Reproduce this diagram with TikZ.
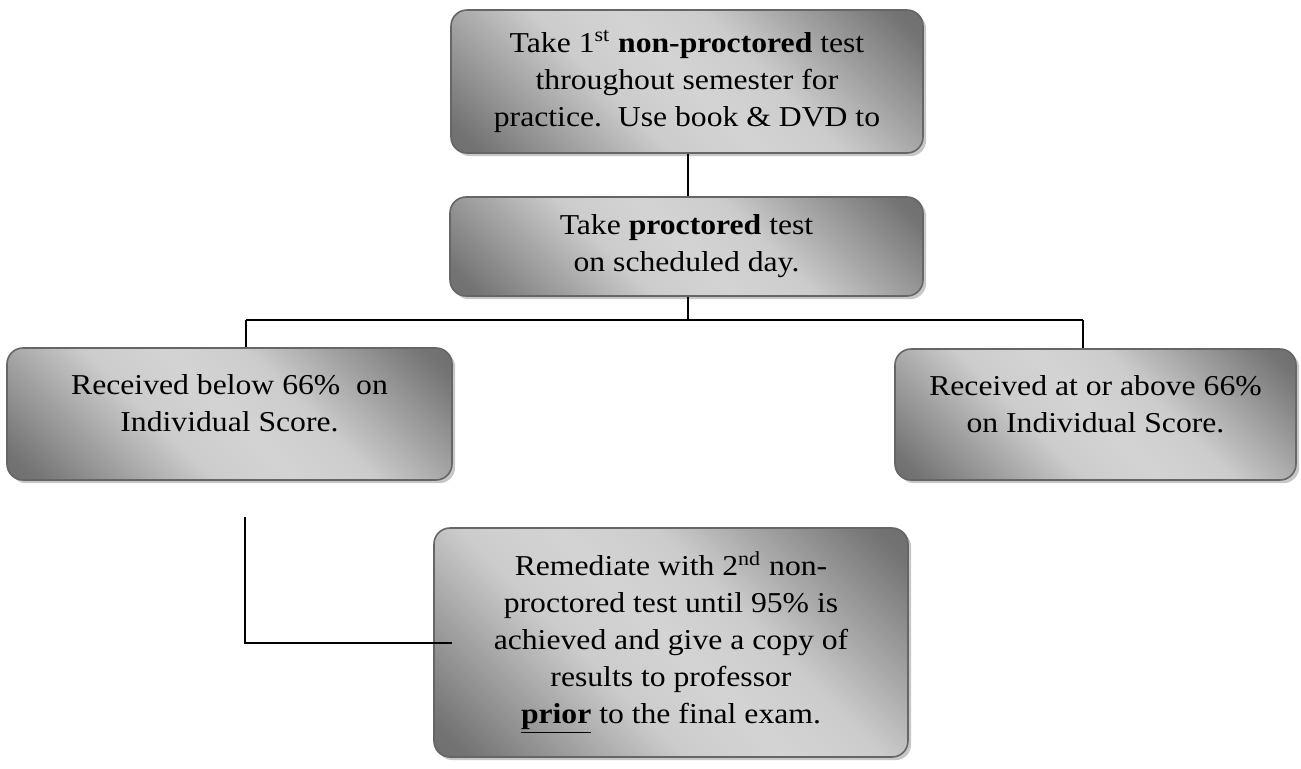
\documentclass[tikz,border=0pt]{standalone}
\usepackage{fontspec}
\setmainfont{Liberation Serif}[FakeStretch=1.1]
\usepackage{tikz}
\usetikzlibrary{shadows}
\definecolor{boxEdge}{rgb}{0.40,0.40,0.40}
\pgfdeclarehorizontalshading{boxshade}{100bp}{%
    color(0bp)=(black!62); color(18bp)=(black!55); color(40bp)=(black!20);
    color(50bp)=(black!17); color(60bp)=(black!20); color(82bp)=(black!55);
    color(100bp)=(black!62)}
\tikzset{
    stepbox/.style={rectangle, rounded corners=8pt, draw=boxEdge, line width=0.8pt,
        shading=boxshade, shading angle=45,
        drop shadow={shadow xshift=1.6pt, shadow yshift=-1.6pt, fill=black!22, opacity=1},
        align=center, inner sep=0pt, font=\fontsize{14.4}{18.5}\selectfont},
    link/.style={line width=0.75pt, black}
}

\begin{document}
\begin{tikzpicture}[x=0.5pt, y=-0.5pt]
        \useasboundingbox (0,0) rectangle (1301,768);

        \node[stepbox, minimum width=236pt, minimum height=71.5pt] (first) at (687,81.5)
            {Take 1\textsuperscript{st} \textbf{non-proctored} test\\ throughout semester for\\ practice.\ \ Use book \& DVD to};
        \node[stepbox, minimum width=236.5pt, minimum height=49.5pt] (proctored) at (686.5,246.5)
            {Take \textbf{proctored} test\\ on scheduled day.};
        \node[stepbox, minimum width=222.5pt, minimum height=66pt, text depth=11pt] (below) at (229.5,414)
            {Received below 66\% \ on\\ Individual Score.};
        \node[stepbox, minimum width=200.5pt, minimum height=65.5pt, text depth=11pt] (above) at (1095.5,414.5)
            {Received at or above 66\%\\ on Individual Score.};
        \node[stepbox, minimum width=237pt, minimum height=114.5pt] (remediate) at (671,642.5)
            {Remediate with 2\textsuperscript{nd} non-\\ proctored test until 95\% is\\ achieved and give a copy of\\ results to professor\\ \underline{\textbf{prior}} to the final exam.};

        \coordinate (split) at (688,320);
        \coordinate (leftEnd) at (246,320);
        \coordinate (rightEnd) at (1083,320);
        \coordinate (remStart) at (245,517);
        \coordinate (remCorner) at (245,643);
        \coordinate (remEnd) at (452,643);

        \draw[link] (first.south -| split) -- (proctored.north -| split);
        \draw[link] (proctored.south -| split) -- (split);
        \draw[link] (leftEnd) -- (rightEnd);
        \draw[link] (leftEnd) -- (leftEnd |- below.north);
        \draw[link] (rightEnd) -- (rightEnd |- above.north);
        \draw[link] (remStart) -- (remCorner) -- (remEnd);
    \end{tikzpicture}
\end{document}
